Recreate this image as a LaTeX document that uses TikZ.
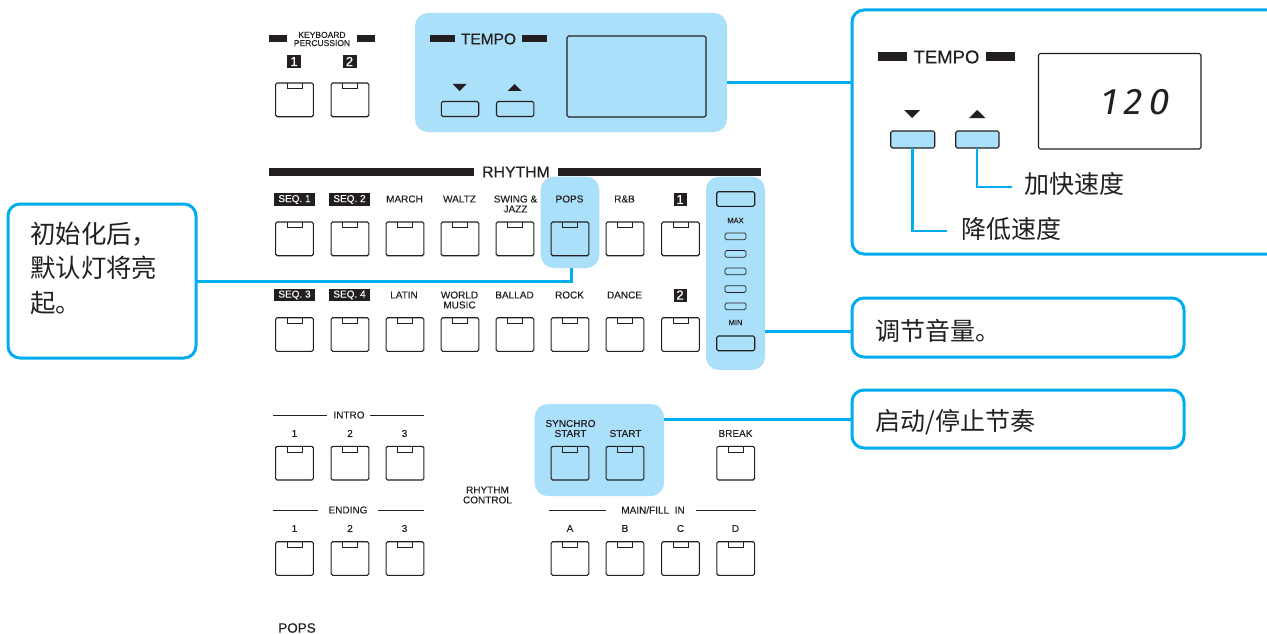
\documentclass[tikz,border=0pt]{standalone}
\usepackage{fontspec}
\setmainfont{Liberation Sans}[FakeBold=0.12]
\newfontfamily\headfont{Liberation Sans}[FakeBold=0.5]
\newfontfamily\cjk{Noto Sans CJK SC}
\newfontfamily\lcdfont[FakeSlant=0.18,LetterSpace=18]{Fira Sans}
\definecolor{cy}{HTML}{00AEEF}
\definecolor{lb}{HTML}{ABE0FA}
\definecolor{ink}{HTML}{231F20}
\tikzset{
  box/.style={rectangle,inner sep=0pt,outer sep=0pt},
  hilite/.style={box,fill=lb,rounded corners=13pt},
  callout/.style={box,draw=cy,line width=3pt,fill=white,rounded corners=12pt},
  wire/.style={draw=cy,line width=3pt},
  btn/.style={box,draw=ink,line width=1.1pt,rounded corners=1.6pt},
  led/.style={box,draw=ink,line width=.7pt,rounded corners=1.5pt},
  tab/.style={draw=ink,line width=.6pt},
  lab/.style={text=ink,inner sep=0pt,align=center,font=\fontsize{10}{10}\selectfont},
  small/.style={text=ink,inner sep=0pt,align=center,font=\fontsize{8.5}{8.5}\selectfont},
  badge/.style={box,fill=ink,text=white,font=\fontsize{10}{10}\selectfont},
  numbadge/.style={box,fill=ink,text=white,font=\headfont\fontsize{13}{13}\selectfont},
  cjktext/.style={text=ink,inner sep=0pt,align=left,font=\cjk\fontsize{25}{34.5}\selectfont},
  bar/.style={fill=ink,draw=none},
  rule/.style={draw=ink,line width=.8pt},
}
% name, x1, y1, x2, y2, style
\newcommand{\rectnode}[6]{%
  \pgfmathsetmacro{\rw}{(#4)-(#2)}\pgfmathsetmacro{\rh}{(#5)-(#3)}%
  \pgfmathsetmacro{\rx}{((#2)+(#4))/2}\pgfmathsetmacro{\ry}{((#3)+(#5))/2}%
  \node[#6,minimum width=\rw pt,minimum height=\rh pt] (#1) at (\rx,\ry) {};}
% name, centre x, top y, fill
\newcommand{\keybtn}[4]{%
  \rectnode{#1}{#2-18.9}{#3}{#2+18.9}{#3+33.7}{btn,fill=#4}%
  \draw[tab] (#2-7.4,#3) -- (#2-7.4,#3+5.6) -- (#2+7.4,#3+5.6) -- (#2+7.4,#3);}
\begin{document}
\begin{tikzpicture}[x=1pt,y=-1pt]
\useasboundingbox (0,0) rectangle (1267,634);

% highlights
\rectnode{tempopanel}{415}{13}{727}{132}{hilite}
\rectnode{popshl}{540.7}{176.7}{599.3}{268}{hilite}
\rectnode{volhl}{706}{176.7}{765}{370}{hilite}
\rectnode{starthl}{534.7}{404}{664}{496}{hilite}

% callouts
\rectnode{leftbox}{8}{204}{196}{358}{callout}
\rectnode{tempobox}{852}{10}{1280}{254}{callout}
\rectnode{volbox}{852}{298}{1184}{357}{callout}
\rectnode{startbox}{852}{390}{1184}{448}{callout}

% connectors
\draw[wire] (tempopanel.east |- 0,83) -- (tempobox.west |- 0,83);
\draw[wire] (popshl.south -| 571,0) -- (571,281) -- (leftbox.east);
\draw[wire] (volhl.east |- 0,331) -- (volbox.west |- 0,331);
\draw[wire] (starthl.east |- startbox.west) -- (startbox.west);

% callout text
\node[cjktext,anchor=west,font=\cjk\fontsize{25.4}{34.5}\selectfont] (lefttext) at (30,268) {初始化后，\\默认灯将亮\\起。};
\node[cjktext,anchor=west] (voltext) at (875,330.5) {调节音量。};
\node[cjktext,anchor=west] (starttext) at (875,422) {启动/停止节奏};

% keyboard percussion
\fill[bar] (269,35) rectangle (287,42);
\fill[bar] (357,35) rectangle (375,42);
\node[small,font=\fontsize{8.5}{8}\selectfont] (kp) at (322,39) {KEYBOARD\\[.2pt]PERCUSSION};
\node[numbadge,minimum width=14pt,minimum height=13pt] (kb1) at (294,61.5) {1};
\node[numbadge,minimum width=14pt,minimum height=13pt] (kb2) at (349.5,61.5) {2};
\keybtn{k1}{294.5}{83}{white}
\keybtn{k2}{350}{83}{white}

% tempo panel
\fill[bar] (430,35) rectangle (455,42);
\fill[bar] (522,35) rectangle (547,42);
\node[text=ink,inner sep=0pt,font=\headfont\fontsize{15.5}{15.5}\selectfont] (tempolab) at (488.5,39) {TEMPO};
\rectnode{disp}{567}{36}{706}{117}{btn}
\fill[ink] (452.5,84) -- (466.5,84) -- (459.5,91) -- cycle;
\fill[ink] (507.5,91) -- (521.5,91) -- (514.5,84) -- cycle;
\rectnode{tdown}{441.3}{101.5}{478.7}{116.5}{btn}
\rectnode{tup}{496.5}{101.5}{533.9}{116.5}{btn}

% rhythm
\fill[bar] (269,168.2) rectangle (474,175.7);
\fill[bar] (558,168.2) rectangle (761,175.7);
\node[text=ink,inner sep=0pt,font=\headfont\fontsize{15.8}{15.8}\selectfont] (rhythm) at (516,172) {RHYTHM};

\node[badge,minimum width=40.4pt,minimum height=12.4pt] (s1) at (294.5,199.5) {SEQ. 1};
\node[badge,minimum width=40.4pt,minimum height=12.4pt] (s2) at (349.5,199.5) {SEQ. 2};
\node[lab] (l1) at (404.5,199) {MARCH};
\node[lab] (l2) at (459.5,199) {WALTZ};
\node[lab] (l3) at (515.5,204) {SWING \&\\JAZZ};
\node[lab] (l4) at (569.5,199) {POPS};
\node[lab] (l5) at (624.5,199) {R\&B};
\node[numbadge,minimum width=13pt,minimum height=13pt] (b1) at (680,199.5) {1};
\keybtn{r11}{294.5}{222}{white}
\keybtn{r12}{350}{222}{white}
\keybtn{r13}{405}{222}{white}
\keybtn{r14}{460}{222}{white}
\keybtn{r15}{515}{222}{white}
\keybtn{r16}{570}{222}{lb}
\keybtn{r17}{625}{222}{white}
\keybtn{r18}{680.5}{222}{white}

\node[badge,minimum width=40.4pt,minimum height=12.4pt] (s3) at (294.5,295) {SEQ. 3};
\node[badge,minimum width=40.4pt,minimum height=12.4pt] (s4) at (349.5,295) {SEQ. 4};
\node[lab] (m1) at (404,295) {LATIN};
\node[lab] (m2) at (459.5,300) {WORLD\\MUSIC};
\node[lab] (m3) at (514.5,295) {BALLAD};
\node[lab] (m4) at (569.5,295) {ROCK};
\node[lab] (m5) at (624.5,295) {DANCE};
\node[numbadge,minimum width=13pt,minimum height=13pt] (b2) at (680,295) {2};
\keybtn{r21}{294.5}{317.7}{white}
\keybtn{r22}{350}{317.7}{white}
\keybtn{r23}{405}{317.7}{white}
\keybtn{r24}{460}{317.7}{white}
\keybtn{r25}{515}{317.7}{white}
\keybtn{r26}{570}{317.7}{white}
\keybtn{r27}{625}{317.7}{white}
\keybtn{r28}{680.5}{317.7}{white}

% volume
\rectnode{vup}{716.7}{191.7}{754.7}{206.3}{btn}
\rectnode{vdn}{716.7}{336}{754.7}{350.7}{btn}
\node[small,font=\fontsize{7.5}{7.5}\selectfont] (vmax) at (735.5,220.5) {MAX};
\node[small,font=\fontsize{7.5}{7.5}\selectfont] (vmin) at (735.5,322.5) {MIN};
\rectnode{v1}{725}{233}{746}{239.7}{led}
\rectnode{v2}{725}{250.5}{746}{257.2}{led}
\rectnode{v3}{725}{268}{746}{274.7}{led}
\rectnode{v4}{725}{285.7}{746}{292.4}{led}
\rectnode{v5}{725}{303}{746}{309.7}{led}

% intro / ending
\draw[rule] (273,415) -- (327,415);
\draw[rule] (370,415) -- (424,415);
\node[lab] (intro) at (349,415) {INTRO};
\node[lab] (i1) at (294.5,433.5) {1};
\node[lab] (i2) at (350,433.5) {2};
\node[lab] (i3) at (404.5,433.5) {3};
\keybtn{in1}{294.5}{446.3}{white}
\keybtn{in2}{350}{446.3}{white}
\keybtn{in3}{405}{446.3}{white}
\draw[rule] (273,510) -- (318,510);
\draw[rule] (378,510) -- (424,510);
\node[lab] (ending) at (348,510) {ENDING};
\node[lab] (e1) at (294.5,528.5) {1};
\node[lab] (e2) at (350,528.5) {2};
\node[lab] (e3) at (404.5,528.5) {3};
\keybtn{en1}{294.5}{541.7}{white}
\keybtn{en2}{350}{541.7}{white}
\keybtn{en3}{405}{541.7}{white}

% rhythm control
\node[lab] (rc) at (487.5,495) {RHYTHM\\CONTROL};
\node[lab] (sync) at (570.5,428.5) {SYNCHRO\\START};
\node[lab] (st) at (625.5,433.5) {START};
\node[lab] (brk) at (735.5,433.5) {BREAK};
\keybtn{c1}{570}{446.3}{lb}
\keybtn{c2}{625}{446.3}{lb}
\keybtn{c3}{735.7}{446.3}{white}
\draw[rule] (549,510) -- (606,510);
\draw[rule] (696,510) -- (756,510);
\node[lab] (mf) at (653,510) {MAIN/FILL\ \ IN};
\node[lab] (ma) at (570,528.5) {A};
\node[lab] (mb) at (625,528.5) {B};
\node[lab] (mc) at (680.5,528.5) {C};
\node[lab] (md) at (735.5,528.5) {D};
\keybtn{f1}{570}{541.7}{white}
\keybtn{f2}{625}{541.7}{white}
\keybtn{f3}{680.5}{541.7}{white}
\keybtn{f4}{735.7}{541.7}{white}

\node[text=ink,inner sep=0pt,font=\fontsize{13.5}{13.5}\selectfont] (popsname) at (297,628) {POPS};

% tempo detail
\fill[bar] (878,52.5) rectangle (907,61.5);
\fill[bar] (985.5,52.5) rectangle (1014.5,61.5);
\node[text=ink,inner sep=0pt,font=\headfont\fontsize{18.5}{18.5}\selectfont] (tempodetail) at (946.5,57) {TEMPO};
\rectnode{bigdisp}{1038.5}{53.5}{1201}{149}{btn}
\node[text=ink,inner sep=0pt,anchor=east,font=\lcdfont\fontsize{37}{37}\selectfont] (lcd) at (1168,102) {120};
\fill[ink] (904,110) -- (920,110) -- (912,118) -- cycle;
\fill[ink] (969,118) -- (985.5,118) -- (977.2,110) -- cycle;
\node[cjktext,anchor=west] (faster) at (1024.5,184) {加快速度};
\node[cjktext,anchor=west] (slower) at (961.5,229) {降低速度};
\coordinate (fasterend) at (1012,187);
\coordinate (slowerend) at (947,231);
\rectnode{bdown}{890.7}{131}{934.7}{148}{btn,fill=lb}
\rectnode{bup}{955.7}{131}{999}{148}{btn,fill=lb}
\draw[wire,line width=2.8pt] (bdown.south -| 912.5,0) -- (912.5,231) -- (slowerend);
\draw[wire,line width=2.8pt] (bup.south -| 977,0) -- (977,187) -- (fasterend);
\end{tikzpicture}
\end{document}
